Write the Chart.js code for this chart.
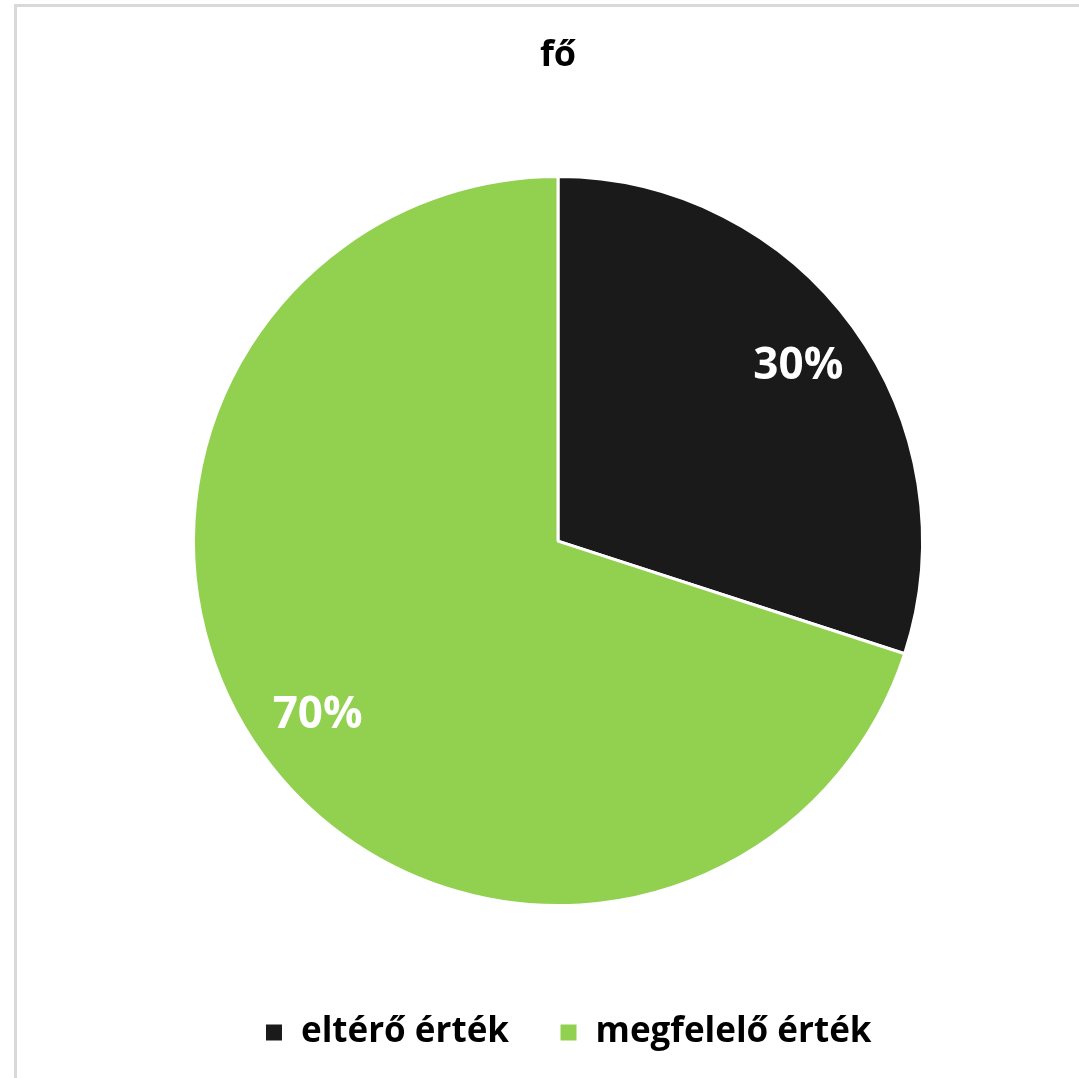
<!DOCTYPE html>
<html>
<head>
<meta charset="utf-8">
<script src="https://cdn.jsdelivr.net/npm/chart.js@4/dist/chart.umd.min.js"></script>
<style>
  html, body { margin: 0; padding: 0; background: #ffffff; overflow: hidden; }
  #frame { position: absolute; left: 14px; top: 4px; width: 1100px; height: 1100px; border: 3px solid #d9d9d9; box-sizing: border-box; }
  #wrap { position: absolute; left: 0; top: 0; width: 1079px; height: 1078px; }
</style>
</head>
<body>
<div id="frame"></div>
<div id="wrap"><canvas id="c" width="1079" height="1078"></canvas></div>
<script>
const chartTitle = 'fő';
const categories = ['eltérő érték', 'megfelelő érték'];
const values = [30, 70];
const sliceColors = ['#1a1a1a', '#92d050'];

const FONT = '"Open Sans", Lato, sans-serif';

const pieLabels = {
  id: 'pieLabels',
  afterDatasetsDraw(chart) {
    const ctx = chart.ctx;
    const meta = chart.getDatasetMeta(0);
    const data = chart.data.datasets[0].data;
    const total = data.reduce((a, b) => a + b, 0);
    ctx.save();
    ctx.font = 'bold 44px ' + FONT;
    ctx.fillStyle = '#ffffff';
    ctx.textAlign = 'center';
    ctx.textBaseline = 'middle';
    meta.data.forEach((arc, i) => {
      const p = arc.getProps(['x', 'y', 'startAngle', 'endAngle', 'outerRadius'], true);
      const mid = (p.startAngle + p.endAngle) / 2;
      const r = p.outerRadius * 0.815;
      const pct = Math.round(data[i] / total * 100) + '%';
      ctx.fillText(pct, p.x + Math.cos(mid) * r, p.y + Math.sin(mid) * r);
    });
    ctx.restore();
  }
};

const legendShift = {
  id: 'legendShift',
  afterLayout(chart) {
    if (chart.legend) {
      chart.legend.left += 10;
      chart.legend.right += 10;
    }
  }
};

new Chart(document.getElementById('c'), {
  type: 'pie',
  data: {
    labels: categories,
    datasets: [{
      data: values,
      backgroundColor: sliceColors,
      borderColor: '#ffffff',
      borderWidth: 3
    }]
  },
  options: {
    responsive: false,
    animation: false,
    layout: { padding: { left: 192, right: 155, top: 0, bottom: 18 } },
    plugins: {
      title: {
        display: true,
        text: chartTitle,
        color: '#000000',
        font: { family: FONT, size: 36, weight: 'bold' },
        padding: { top: 34, bottom: 40 }
      },
      legend: {
        position: 'bottom',
        labels: {
          color: '#000000',
          font: { family: FONT, size: 35, weight: 'bold' },
          boxWidth: 19,
          boxHeight: 19,
          padding: 50
        }
      },
      tooltip: { enabled: false }
    }
  },
  plugins: [pieLabels, legendShift]
});
</script>
</body>
</html>
